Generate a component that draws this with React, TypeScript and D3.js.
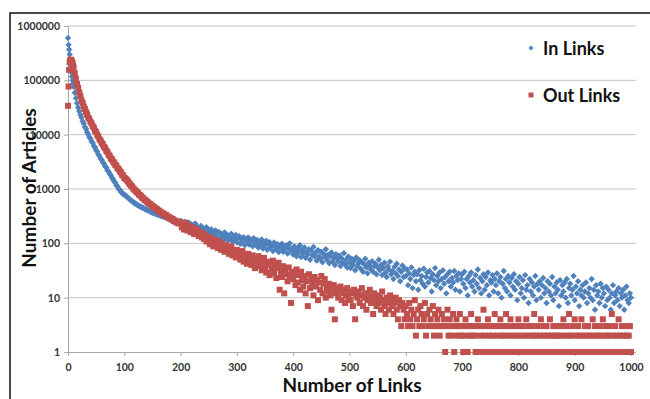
import React, { useEffect, useRef } from 'react';
import * as d3 from 'd3';

// values at x = 0, 2, 4, ... 1000
const inLinks = [
  600000, 370000, 240000, 141000, 100000, 76000, 59000, 47000, 38000, 31500,
  27000, 23200, 20600, 17600, 16000, 13900, 12700, 11100, 10100, 9000,
  8400, 7500, 7000, 6200, 5800, 5150, 4850, 4300, 4020, 3620,
  3420, 3080, 2910, 2620, 2480, 2220, 2110, 1900, 1800, 1610,
  1530, 1380, 1310, 1170, 1110, 1000, 965, 885, 860, 800,
  785, 760, 735, 700, 668, 640, 612, 598, 570, 548,
  540, 520, 508, 490, 470, 472, 450, 448, 430, 425,
  410, 405, 398, 380, 385, 366, 370, 352, 348, 340,
  336, 342, 320, 318, 310, 315, 298, 305, 288, 284,
  290, 272, 278, 262, 268, 252, 260, 245, 250, 236,
  262, 214, 238, 196, 250, 221, 186, 243, 205, 228,
  178, 215, 196, 232, 170, 201, 185, 160, 210, 176,
  190, 152, 175, 198, 145, 170, 158, 182, 138, 165,
  148, 172, 131, 155, 162, 125, 150, 140, 118, 158,
  132, 145, 112, 138, 124, 150, 108, 130, 120, 142,
  104, 125, 136, 98, 118, 112, 130, 92, 122, 106,
  128, 95, 110, 118, 88, 124, 102, 93, 115, 84,
  108, 96, 118, 80, 100, 91, 112, 76, 98, 105,
  84, 92, 72, 104, 86, 78, 96, 69, 90, 82,
  98, 70, 86, 78, 92, 65, 84, 100, 74, 80,
  62, 88, 72, 58, 80, 68, 92, 56, 76, 65,
  84, 54, 70, 63, 78, 50, 73, 60, 86, 57,
  67, 48, 75, 58, 52, 70, 45, 64, 56, 78,
  50, 62, 43, 58, 68, 47, 55, 40, 63, 52,
  46, 60, 38, 53, 44, 66, 41, 50, 36, 57,
  44, 35, 52, 40, 47, 32, 55, 38, 43, 49,
  34, 45, 30, 41, 52, 36, 28, 44, 39, 33,
  47, 30, 38, 42, 27, 36, 50, 32, 40, 26,
  35, 44, 29, 24, 38, 33, 46, 27, 31, 22,
  37, 28, 42, 25, 33, 20, 30, 39, 24, 34,
  25, 33, 17, 28, 22, 36, 15, 26, 30, 20,
  27, 14, 32, 21, 25, 18, 34, 16, 24, 29,
  19, 31, 23, 13, 27, 21, 35, 17, 25, 20,
  29, 15, 22, 32, 18, 24, 12, 27, 20, 30,
  16, 23, 19, 31, 14, 25, 21, 28, 13, 22,
  27, 18, 30, 15, 22, 11, 25, 19, 29, 16,
  21, 13, 26, 18, 33, 15, 23, 12, 20, 27,
  14, 24, 17, 29, 11, 21, 19, 26, 13, 22,
  17, 28, 12, 20, 24, 10, 18, 31, 15, 22,
  13, 25, 19, 11, 23, 16, 27, 14, 20, 9,
  18, 24, 12, 15, 21, 10, 26, 14, 17, 8,
  22, 13, 19, 11, 16, 25, 9, 18, 14, 20,
  10, 17, 23, 12, 15, 8, 20, 13, 18, 11,
  24, 9, 16, 12, 19, 14, 7, 21, 11, 17,
  13, 19, 10, 22, 8, 15, 18, 11, 14, 25,
  9, 16, 12, 20, 7, 14, 11, 17, 10, 13,
  19, 8, 12, 15, 10, 22, 9, 14, 6, 17,
  11, 13, 8, 18, 10, 15, 12, 7, 16, 9,
  14, 10, 6, 12, 17, 8, 11, 13, 9, 15,
  7, 12, 10, 14, 6, 11, 16, 9, 8, 12,
  10
];
// x = 1, 3, 5, 7, 9
const inLinksHead = [450000, 300000, 190000, 118000, 87000];

const outLinks = [
  34000, 156000, 235000, 232000, 208000, 172000, 135000, 108000, 86000, 73000,
  60000, 52000, 43000, 38500, 33000, 29800, 26000, 23600, 20700, 19300,
  17200, 16000, 14300, 13400, 11800, 11100, 9900, 9200, 8200, 7750,
  7000, 6600, 5950, 5620, 5060, 4800, 4300, 4080, 3670, 3510,
  3200, 3060, 2780, 2670, 2410, 2320, 2110, 2030, 1830, 1770,
  1600, 1560, 1490, 1400, 1300, 1230, 1150, 1110, 1020, 975,
  930, 880, 850, 790, 770, 730, 690, 672, 630, 618,
  585, 566, 540, 528, 498, 492, 465, 458, 430, 425,
  402, 398, 375, 370, 350, 352, 328, 335, 306, 312,
  290, 296, 275, 280, 258, 262, 244, 252, 232, 238,
  245, 198, 226, 180, 238, 204, 172, 215, 190, 160,
  198, 170, 148, 186, 158, 176, 136, 162, 145, 128,
  152, 120, 140, 108, 132, 118, 96, 126, 110, 88,
  116, 94, 104, 82, 110, 90, 76, 98, 85, 70,
  92, 74, 84, 64, 78, 88, 60, 72, 66, 55,
  76, 58, 68, 50, 62, 72, 46, 60, 53, 42,
  64, 48, 56, 40, 60, 45, 35, 52, 43, 58,
  38, 48, 32, 44, 54, 36, 29, 46, 40, 26,
  42, 33, 48, 28, 38, 23, 35, 44, 14, 30,
  24, 38, 12, 32, 27, 20, 36, 25, 8, 30,
  22, 28, 17, 33, 19, 26, 14, 30, 21, 16,
  25, 12, 20, 7, 27, 15, 22, 18, 11, 24,
  16, 21, 9, 19, 14, 25, 12, 18, 22, 10,
  15, 13, 18, 11, 6, 14, 17, 4, 12, 15,
  10, 13, 16, 9, 12, 14, 8, 11, 15, 10,
  13, 9, 12, 7, 14, 4, 11, 10, 13, 8,
  11, 15, 7, 10, 12, 6, 9, 11, 14, 8,
  10, 5, 12, 9, 7, 11, 8, 10, 6, 13,
  9, 7, 5, 10, 8, 6, 11, 9, 7, 5,
  8, 10, 6, 4, 9, 7, 3, 8, 6, 4,
  7, 5, 3, 8, 4, 6, 3, 5, 9, 2,
  4, 6, 3, 7, 5, 3, 4, 8, 2, 5,
  3, 6, 4, 3, 7, 2, 5, 3, 4, 6,
  2, 3, 5, 3, 4, 1, 3, 6, 2, 4,
  3, 2, 5, 1, 3, 4, 2, 3, 5, 2,
  3, 1, 2, 4, 3, 1, 2, 3, 5, 2,
  3, 2, 1, 3, 4, 1, 2, 3, 1, 6,
  2, 3, 1, 4, 2, 3, 1, 2, 3, 5,
  1, 2, 3, 1, 4, 2, 3, 1, 2, 5,
  3, 1, 2, 4, 3, 1, 2, 3, 1, 2,
  4, 3, 1, 2, 3, 1, 2, 4, 1, 3,
  2, 1, 3, 2, 5, 1, 2, 3, 1, 2,
  4, 1, 3, 2, 1, 3, 2, 1, 4, 2,
  1, 3, 2, 1, 2, 3, 1, 2, 3, 1,
  4, 2, 1, 3, 2, 5, 1, 2, 3, 1,
  4, 2, 1, 3, 2, 1, 4, 2, 1, 3,
  2, 1, 3, 2, 1, 2, 4, 1, 3, 2,
  1, 2, 3, 1, 2, 4, 1, 3, 2, 1,
  2, 3, 1, 5, 2, 1, 3, 2, 1, 4,
  2, 1, 3, 2, 1, 3, 2, 1, 2, 3,
  1
];
const outLinksHead = [77000, 215000, 240000, 222000, 190000];

const xTicks = [0, 100, 200, 300, 400, 500, 600, 700, 800, 900, 1000];
const yTicks = [1, 10, 100, 1000, 10000, 100000, 1000000];

const BLUE = '#4f81bd';
const RED = '#c0504d';
const FONT = 'Lato, "Open Sans", sans-serif';

function toPoints(even: number[], odd: number[]) {
  const pts = even.map((v, i) => ({ x: i * 2, y: v }));
  odd.forEach((v, i) => pts.push({ x: i * 2 + 1, y: v }));
  return pts;
}

export default function App() {
  const ref = useRef<SVGSVGElement>(null);

  useEffect(() => {
    if (!ref.current) return;
    const svg = d3.select(ref.current);
    svg.selectAll('*').remove();

    const left = 68, right = 631, plotRight = 636, top = 26, bottom = 352;
    const x = d3.scaleLinear().domain([0, 1000]).range([left, right]);
    const y = d3.scaleLog().domain([1, 1000000]).range([bottom, top]);

    // frame
    svg.append('path')
      .attr('d', `M10,420 L10,13 L650,13`)
      .attr('fill', 'none')
      .attr('stroke', '#111')
      .attr('stroke-width', 1.5);

    // gridlines
    svg.append('g').selectAll('line')
      .data(yTicks.slice(1))
      .enter().append('line')
      .attr('x1', left).attr('x2', plotRight)
      .attr('y1', d => y(d)).attr('y2', d => y(d))
      .attr('stroke', '#c4c4c4').attr('stroke-width', 1);

    // axes
    const yAxis = svg.append('g')
      .attr('transform', `translate(${left},0)`)
      .call(d3.axisLeft(y).tickValues(yTicks).tickFormat(d3.format('d')).tickSize(4).tickPadding(4));
    const xAxis = svg.append('g')
      .attr('transform', `translate(0,${bottom})`)
      .call(d3.axisBottom(x).tickValues(xTicks).tickFormat(d3.format('d')).tickSize(4).tickPadding(8));
    xAxis.select('.domain').attr('d', `M${left},0.5H${plotRight}`);
    [xAxis, yAxis].forEach(a => {
      a.select('.domain').attr('stroke', '#a6a6a6');
      a.selectAll('line').attr('stroke', '#a6a6a6');
      a.selectAll('text')
        .attr('fill', '#333')
        .style('font-family', FONT)
        .style('font-weight', 'bold')
        .style('font-size', '10.5px');
    });

    // series
    const blue = toPoints(inLinks, inLinksHead);
    const red = toPoints(outLinks, outLinksHead);
    const diamond = 'M0,-3.2L3.2,0L0,3.2L-3.2,0Z';

    svg.append('g').selectAll('path')
      .data(blue)
      .enter().append('path')
      .attr('d', diamond)
      .attr('transform', d => `translate(${x(d.x)},${y(d.y)})`)
      .attr('fill', BLUE);

    svg.append('g').selectAll('rect')
      .data(red)
      .enter().append('rect')
      .attr('x', d => x(d.x) - 3)
      .attr('y', d => y(d.y) - 3)
      .attr('width', 6).attr('height', 6)
      .attr('fill', RED);

    // axis titles
    svg.append('text')
      .attr('x', 352).attr('y', 392)
      .attr('text-anchor', 'middle')
      .style('font-family', FONT).style('font-weight', 'bold').style('font-size', '19px')
      .attr('fill', '#111')
      .text('Number of Links');
    svg.append('text')
      .attr('transform', 'translate(36,188) rotate(-90)')
      .attr('text-anchor', 'middle')
      .style('font-family', FONT).style('font-weight', 'bold').style('font-size', '19px')
      .attr('fill', '#111')
      .text('Number of Articles');

    // legend
    const legend = [
      { label: 'In Links', color: BLUE, shape: 'diamond' },
      { label: 'Out Links', color: RED, shape: 'square' }
    ];
    const lg = svg.append('g').selectAll('g')
      .data(legend)
      .enter().append('g')
      .attr('transform', (d, i) => `translate(531,${48 + i * 47})`);
    lg.append('path')
      .attr('d', d => d.shape === 'diamond' ? 'M0,-2.5L2.5,0L0,2.5L-2.5,0Z' : 'M-2.5,-2.5H2.5V2.5H-2.5Z')
      .attr('fill', d => d.color);
    lg.append('text')
      .attr('x', 12).attr('y', 7)
      .style('font-family', FONT).style('font-weight', 'bold').style('font-size', '18px')
      .attr('fill', '#111')
      .text(d => d.label);
  }, []);

  return (
    <svg ref={ref} width={650} height={399}
      style={{ position: 'absolute', left: 0, top: 0, background: '#fff' }} />
  );
}
